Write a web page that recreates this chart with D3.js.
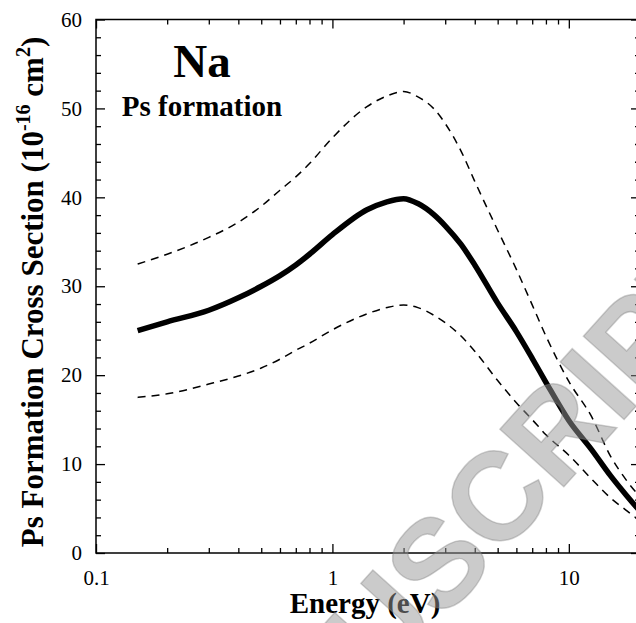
<!DOCTYPE html>
<html>
<head>
<meta charset="utf-8">
<script src="https://cdn.jsdelivr.net/npm/d3@7"></script>
<style>
  body { margin: 0; background: #fff; }
  svg { display: block; }
  text { font-family: "Liberation Serif", "Times New Roman", serif; }
</style>
</head>
<body>
<div id="chart"></div>
<script>
// energies (eV) shared by all three curves
const energy = [0.15, 0.2, 0.3, 0.4, 0.5, 0.6, 0.7, 0.8, 1.0, 1.4, 1.7, 2.0, 2.3, 2.7, 3.0, 3.5, 4.0, 5.0, 6.0, 7.0, 8.0, 10, 12.5, 15, 17.5, 20];

// Ps formation cross section, 10^-16 cm^2
const psBest = [25.0, 26.0, 27.3, 28.7, 30.0, 31.2, 32.4, 33.6, 35.8, 38.6, 39.5, 39.85, 39.3, 38.0, 36.8, 34.7, 32.4, 28.1, 24.9, 21.9, 19.2, 14.9, 11.6, 8.7, 6.5, 4.7];
const psUpper = [32.5, 33.6, 35.5, 37.2, 39.0, 40.8, 42.3, 43.8, 46.7, 50.2, 51.4, 51.9, 51.3, 49.9, 48.3, 45.2, 41.8, 36.3, 31.9, 27.9, 24.4, 19.3, 15.3, 10.9, 8.2, 6.3];
const psLower = [17.5, 17.9, 19.0, 19.9, 20.8, 21.8, 22.8, 23.6, 25.1, 26.9, 27.6, 27.9, 27.6, 26.7, 25.9, 24.4, 22.7, 19.4, 16.9, 15.0, 13.3, 11.0, 8.3, 6.2, 4.8, 3.6];

const xMajor = [0.1, 1, 10];
const xMinor = [0.2, 0.3, 0.4, 0.5, 0.6, 0.7, 0.8, 0.9, 2, 3, 4, 5, 6, 7, 8, 9, 20];
const yMajor = [0, 10, 20, 30, 40, 50, 60];
const yMinor = d3.range(0, 61, 2).filter(v => v % 10 !== 0);

const width = 636, height = 623;
const margin = { top: 19.5, left: 96, right: -4, bottom: 70 };
const plotW = width - margin.left - margin.right;
const plotH = height - margin.top - margin.bottom;

const svg = d3.select("#chart").append("svg")
  .attr("width", width)
  .attr("height", height);

const g = svg.append("g").attr("transform", `translate(${margin.left},${margin.top})`);

const x = d3.scaleLog().domain([0.1, 20]).range([0, plotW]);
const y = d3.scaleLinear().domain([0, 60]).range([plotH, 0]);

// frame
g.append("rect")
  .attr("width", plotW).attr("height", plotH)
  .attr("fill", "none").attr("stroke", "#000").attr("stroke-width", 1.5);

function styleAxis(sel) {
  sel.select(".domain").remove();
  sel.selectAll(".tick line").attr("stroke", "#000").attr("stroke-width", 1.3);
  sel.selectAll("text").attr("font-size", 21).attr("fill", "#000")
    .style("font-family", "'Liberation Serif', 'Times New Roman', serif");
}

// bottom axis
g.append("g").attr("transform", `translate(0,${plotH})`)
  .call(d3.axisBottom(x).tickValues(xMajor).tickSize(-9).tickPadding(17).tickFormat(d3.format("~g")))
  .call(styleAxis);
g.append("g").attr("transform", `translate(0,${plotH})`)
  .call(d3.axisBottom(x).tickValues(xMinor).tickSize(-5).tickFormat(""))
  .call(styleAxis);
// top axis
g.append("g")
  .call(d3.axisTop(x).tickValues(xMajor).tickSize(-9).tickFormat(""))
  .call(styleAxis);
g.append("g")
  .call(d3.axisTop(x).tickValues(xMinor).tickSize(-5).tickFormat(""))
  .call(styleAxis);

// left axis
g.append("g")
  .call(d3.axisLeft(y).tickValues(yMajor).tickSize(-9).tickPadding(14))
  .call(styleAxis);
g.append("g")
  .call(d3.axisLeft(y).tickValues(yMinor).tickSize(-5).tickFormat(""))
  .call(styleAxis);
// right axis
g.append("g").attr("transform", `translate(${plotW},0)`)
  .call(d3.axisRight(y).tickValues(yMajor).tickSize(-9).tickFormat(""))
  .call(styleAxis);
g.append("g").attr("transform", `translate(${plotW},0)`)
  .call(d3.axisRight(y).tickValues(yMinor).tickSize(-5).tickFormat(""))
  .call(styleAxis);

// curves
const line = d3.line()
  .x(d => x(d[0]))
  .y(d => y(d[1]))
  .curve(d3.curveMonotoneX);

const series = [
  { values: psUpper, width: 1.5, dash: "8,6" },
  { values: psLower, width: 1.5, dash: "8,6" },
  { values: psBest, width: 5.5, dash: null }
];

g.selectAll(".curve")
  .data(series)
  .enter()
  .append("path")
  .attr("class", "curve")
  .attr("d", s => line(energy.map((e, i) => [e, s.values[i]])))
  .attr("fill", "none")
  .attr("stroke", "#000")
  .attr("stroke-width", s => s.width)
  .attr("stroke-dasharray", s => s.dash);

// in-plot labels
svg.append("text")
  .attr("x", 202).attr("y", 77)
  .attr("text-anchor", "middle")
  .attr("font-size", 47).attr("font-weight", "bold")
  .text("Na");
svg.append("text")
  .attr("x", 202).attr("y", 116)
  .attr("text-anchor", "middle")
  .attr("font-size", 29).attr("font-weight", "bold")
  .text("Ps formation");

// axis titles
svg.append("text")
  .attr("x", 365).attr("y", 613)
  .attr("text-anchor", "middle")
  .attr("font-size", 29).attr("font-weight", "bold")
  .text("Energy (eV)");

const yTitle = svg.append("text")
  .attr("transform", "translate(43,292) rotate(-90)")
  .attr("text-anchor", "middle")
  .attr("font-size", 31).attr("font-weight", "bold");
yTitle.append("tspan").text("Ps Formation Cross Section (10");
yTitle.append("tspan").attr("font-size", 20).attr("dy", -13).text("-16");
yTitle.append("tspan").attr("dy", 13).text(" cm");
yTitle.append("tspan").attr("font-size", 20).attr("dy", -13).text("2");
yTitle.append("tspan").attr("dy", 13).text(")");

// watermark across the page
const wm = svg.append("g")
  .attr("transform", "translate(442,622) rotate(-48)")
  .attr("fill", "#979797")
  .attr("fill-opacity", 0.5)
  .attr("stroke", "#7a7a7a")
  .attr("stroke-opacity", 0.35)
  .attr("stroke-width", 1.5)
  .attr("font-size", 125)
  .attr("font-weight", "bold");
wm.append("text").style("font-family", "'Liberation Sans', Arial, sans-serif").attr("text-anchor", "end").text("ACCEPTED MANU");
wm.append("text").style("font-family", "'Liberation Sans', Arial, sans-serif").text("SCRIPT");
</script>
</body>
</html>
